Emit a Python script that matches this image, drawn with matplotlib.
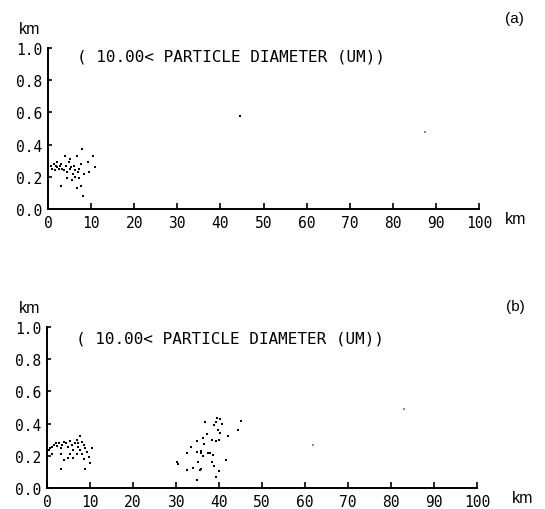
import matplotlib.pyplot as plt

# particle positions (downwind distance km, height km), case (a)
a_x = [0.7, 1.0, 1.3, 1.6, 1.9, 2.2, 2.5, 2.8, 3.1, 3.3, 3.6, 3.9, 4.2, 4.5,
       4.8, 5.1, 5.4, 5.7, 5.5, 6.0, 6.3, 6.7, 7.0, 7.3, 7.6, 8.0, 7.1, 6.8,
       7.6, 8.2, 3.0, 4.3, 9.2, 9.6, 10.4, 10.9, 8.4, 6.2, 5.0, 2.0, 44.5]
a_y = [0.27, 0.25, 0.28, 0.24, 0.27, 0.26, 0.25, 0.27, 0.28, 0.25, 0.24, 0.33,
       0.27, 0.23, 0.29, 0.31, 0.26, 0.22, 0.18, 0.27, 0.24, 0.33, 0.23, 0.25,
       0.28, 0.37, 0.19, 0.13, 0.14, 0.08, 0.14, 0.19, 0.29, 0.23, 0.33, 0.26,
       0.22, 0.20, 0.25, 0.29, 0.575]
a_faint_x = [87.5]
a_faint_y = [0.477]

# case (b): near-source cloud plus a second cloud around 30-45 km
b_x = [0.4, 0.8, 1.2, 1.6, 2.0, 2.4, 2.8, 3.2, 3.6, 4.0, 4.5, 4.9, 5.3, 5.7,
       6.1, 6.5, 6.9, 7.3, 7.7, 8.1, 8.5, 8.9, 9.3, 9.7, 10.1, 10.5, 3.2, 4.0,
       4.9, 6.1, 6.9, 8.1, 8.5, 8.9, 3.2, 1.2, 5.3, 7.7, 7.3,
       39.5, 40.2, 39.4, 38.8, 40.8, 36.7, 45.0, 44.5, 39.8, 40.2, 42.0, 37.3,
       38.3, 39.3, 40.1, 36.2, 34.9, 36.5, 33.6, 32.5, 34.9, 35.7, 35.9, 36.2,
       37.5, 37.9, 38.7, 38.3, 41.7, 30.2, 30.5, 32.6, 34.0, 35.2, 35.6, 35.9,
       38.9, 40.1, 39.3, 34.9]
b_y = [0.235, 0.246, 0.256, 0.267, 0.278, 0.261, 0.278, 0.246, 0.267, 0.288,
       0.282, 0.256, 0.295, 0.267, 0.235, 0.278, 0.299, 0.256, 0.321, 0.288,
       0.267, 0.246, 0.224, 0.192, 0.154, 0.246, 0.214, 0.171, 0.188, 0.188,
       0.214, 0.214, 0.182, 0.118, 0.118, 0.214, 0.214, 0.235, 0.278,
       0.435, 0.430, 0.408, 0.390, 0.397, 0.408, 0.414, 0.362, 0.362, 0.340,
       0.321, 0.336, 0.300, 0.294, 0.300, 0.309, 0.294, 0.273, 0.253, 0.217,
       0.226, 0.230, 0.217, 0.200, 0.220, 0.217, 0.204, 0.163, 0.176, 0.160,
       0.149, 0.112, 0.122, 0.160, 0.112, 0.118, 0.139, 0.107, 0.070, 0.050]
b_faint_x = [61.8, 83.0]
b_faint_y = [0.267, 0.491]

x_ticks = [0, 10, 20, 30, 40, 50, 60, 70, 80, 90, 100]
y_ticks = [0.0, 0.2, 0.4, 0.6, 0.8, 1.0]
title = "( 10.00< PARTICLE DIAMETER (UM))"

W, H = 545, 510
fig = plt.figure(figsize=(W / 100, H / 100), dpi=100)
mono = "DejaVu Sans Mono"
sans = "Liberation Sans"


def px(x, y):
    return x / W, 1 - y / H


def panel(rect, xs, ys, fx, fy, xpad):
    ax = fig.add_axes(rect)
    ax.scatter(xs, ys, s=2, marker="s", color="black", linewidths=0)
    ax.scatter(fx, fy, s=1.5, marker="s", color="0.55", linewidths=0)
    ax.set_xlim(0, 100)
    ax.set_ylim(0, 1.0)
    for side in ["top", "right"]:
        ax.spines[side].set_visible(False)
    for side in ["left", "bottom"]:
        ax.spines[side].set_linewidth(1.4)
    ax.set_xticks(x_ticks)
    ax.set_yticks(y_ticks)
    ax.set_xticklabels([str(v) for v in x_ticks])
    ax.set_yticklabels(["%.1f" % v for v in y_ticks])
    ax.tick_params(axis="x", direction="in", length=4, width=1.2, pad=xpad)
    ax.tick_params(axis="y", direction="in", length=3, width=1.2, pad=4)
    for lab in ax.get_xticklabels() + ax.get_yticklabels():
        lab.set_fontfamily(mono)
        lab.set_fontsize(10.5)
    return ax


panel([48 / W, 1 - 210 / H, 431 / W, 161 / H], a_x, a_y, a_faint_x, a_faint_y, 4)
panel([47 / W, 1 - 489 / H, 430 / W, 161 / H], b_x, b_y, b_faint_x, b_faint_y, 4.5)

# panel (a) annotations
fig.text(*px(30, 29), "km", fontsize=11.5, family=sans, ha="center", va="center")
fig.text(*px(514, 19), "(a)", fontsize=11, family=sans, ha="center", va="center")
fig.text(*px(516, 219), "km", fontsize=11.5, family=sans, ha="center", va="center")
fig.text(*px(77, 57), title, fontsize=11.5, family=mono, ha="left", va="center")

# panel (b) annotations
fig.text(*px(30, 309), "km", fontsize=11.5, family=sans, ha="center", va="center")
fig.text(*px(515, 307), "(b)", fontsize=11, family=sans, ha="center", va="center")
fig.text(*px(523, 499), "km", fontsize=11.5, family=sans, ha="center", va="center")
fig.text(*px(76, 339), title, fontsize=11.5, family=mono, ha="left", va="center")

fig.savefig("out.png", dpi=100)
